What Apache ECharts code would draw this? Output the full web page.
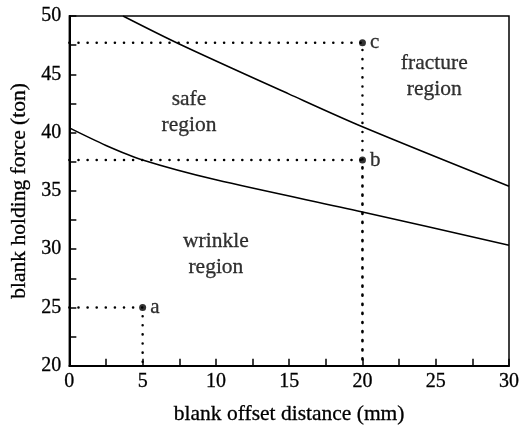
<!DOCTYPE html>
<html>
<head>
<meta charset="utf-8">
<script src="https://cdn.jsdelivr.net/npm/echarts@6/dist/echarts.min.js"></script>
<style>html,body{margin:0;padding:0;background:#fff;}#c{width:527px;height:431px;}</style>
</head>
<body>
<div id="c"></div>
<script>
// Upper boundary (safe / fracture)
var upperX = [3.66, 7.5, 15, 20, 30];
var upperY = [50, 47.6, 43.3, 40.5, 35.4];
// Lower boundary (wrinkle / safe)
var lowerX = [0, 2.5, 5, 10, 20, 30];
var lowerY = [40.4, 38.9, 37.65, 35.95, 33.2, 30.35];
// Marked process points
var pointNames = ['a', 'b', 'c'];
var pointX = [5, 20, 20];
var pointY = [25, 37.65, 47.7];
// Region labels
var regionNames = ['safe\nregion', 'fracture\nregion', 'wrinkle\nregion'];
var regionX = [8.16, 24.9, 10.0];
var regionY = [41.7, 44.8, 29.6];

var xMin = 0, xMax = 30, yMin = 20, yMax = 50;
var FONT = '"Liberation Serif", "DejaVu Serif", serif';
var INK = { textBorderColor: '#000', textBorderWidth: 0.3 };

function zip(xs, ys) { return xs.map(function (x, i) { return [x, ys[i]]; }); }

var series = [];
series.push({
  type: 'line', data: zip(upperX, upperY), smooth: 0.3,
  showSymbol: false, lineStyle: { color: '#000', width: 1.5 }, silent: true, z: 3
});
series.push({
  type: 'line', data: zip(lowerX, lowerY), smooth: 0.3,
  showSymbol: false, lineStyle: { color: '#000', width: 1.5 }, silent: true, z: 3
});
// dotted guide lines
pointNames.forEach(function (n, i) {
  series.push({
    type: 'line',
    data: [[xMin, pointY[i]], [pointX[i], pointY[i]], [pointX[i], yMin]],
    showSymbol: false, silent: true,
    lineStyle: { color: '#000', width: 2.5, type: [0.1, 9], cap: 'round' },
    z: 2
  });
});
series.push({
  type: 'scatter',
  data: pointNames.map(function (n, i) { return { value: [pointX[i], pointY[i]], name: n }; }),
  symbol: 'circle', symbolSize: 7,
  itemStyle: { color: '#000' },
  label: Object.assign({
    show: true, position: 'right', distance: 4,
    formatter: function (p) { return p.name; },
    fontFamily: FONT, fontSize: 21, color: '#000'
  }, INK),
  z: 4
});
series.push({
  type: 'scatter',
  data: regionNames.map(function (n, i) { return { value: [regionX[i], regionY[i]], name: n }; }),
  symbolSize: 0,
  label: Object.assign({
    show: true, position: 'inside',
    formatter: function (p) { return p.name; },
    fontFamily: FONT, fontSize: 21.5, color: '#000', lineHeight: 26, align: 'center'
  }, INK),
  silent: true, z: 4
});

var chart = echarts.init(document.getElementById('c'), null, { renderer: 'canvas' });
chart.setOption({
  animation: false,
  backgroundColor: '#fff',
  grid: { left: 64, right: 18, top: 16, bottom: 57, show: true, borderColor: '#000', borderWidth: 1.5, backgroundColor: 'transparent' },
  xAxis: {
    type: 'value', min: xMin, max: xMax, interval: 2.5,
    name: 'blank offset distance (mm)', nameLocation: 'middle', nameGap: 38,
    nameTextStyle: Object.assign({ fontFamily: FONT, fontSize: 21.5, color: '#000' }, INK),
    axisLine: { show: true, lineStyle: { color: '#000', width: 2 } },
    axisTick: { show: true, inside: true, length: 7, lineStyle: { color: '#000', width: 1.5 } },
    axisLabel: Object.assign({
      fontFamily: FONT, fontSize: 20, color: '#000', margin: 6,
      formatter: function (v) { return (Math.abs(v % 5) < 1e-9) ? String(v) : ''; }
    }, INK),
    splitLine: { show: false }
  },
  yAxis: {
    type: 'value', min: yMin, max: yMax, interval: 2.5,
    name: 'blank holding force (ton)', nameLocation: 'middle', nameGap: 28,
    nameTextStyle: Object.assign({ fontFamily: FONT, fontSize: 21.5, color: '#000' }, INK),
    axisLine: { show: true, lineStyle: { color: '#000', width: 2 } },
    axisTick: { show: true, inside: true, length: 7, lineStyle: { color: '#000', width: 1.5 } },
    axisLabel: Object.assign({
      fontFamily: FONT, fontSize: 20, color: '#000', margin: 8,
      formatter: function (v) { return (Math.abs(v % 5) < 1e-9) ? String(v) : ''; }
    }, INK),
    splitLine: { show: false }
  },
  series: series
});
</script>
</body>
</html>
